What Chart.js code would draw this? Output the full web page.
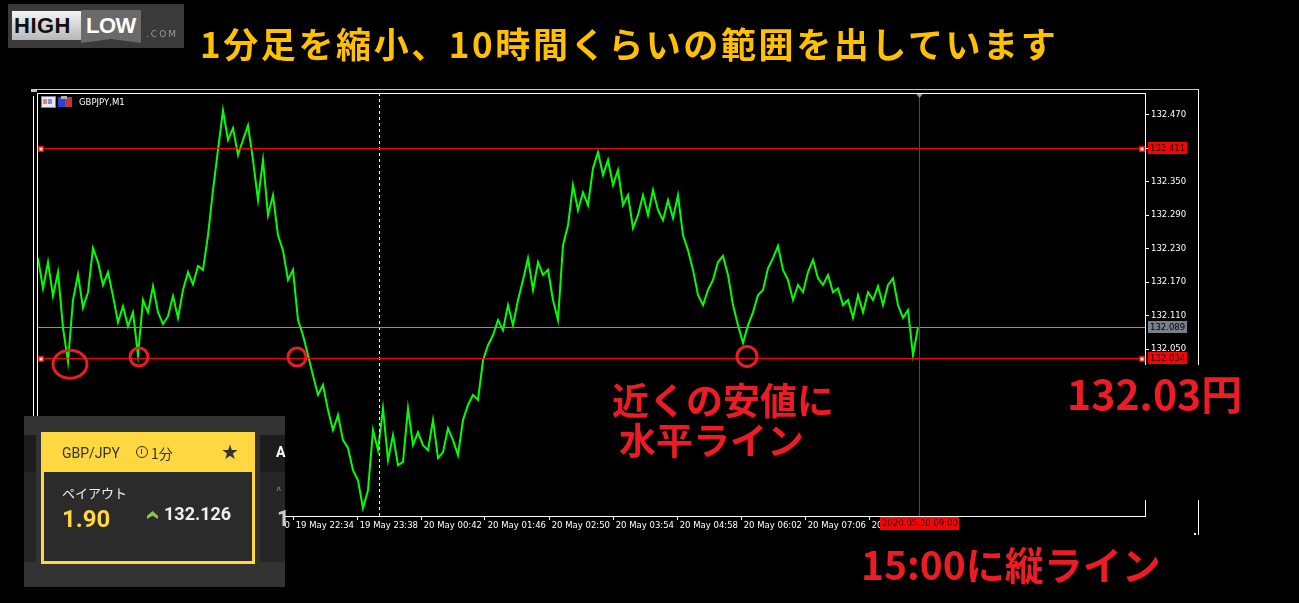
<!DOCTYPE html>
<html>
<head>
<meta charset="utf-8">
<script src="https://cdn.jsdelivr.net/npm/chart.js@4.4.0/dist/chart.umd.min.js"></script>
<style>
html, body { margin: 0; padding: 0; background: #000; width: 1299px; height: 603px; overflow: hidden; }
#wrap { position: relative; width: 1299px; height: 603px; }
#myChart { position: absolute; left: 0; top: 0; }
.ov { position: absolute; white-space: nowrap; }
.jp { font-family: "Noto Sans CJK JP", sans-serif; font-weight: bold; }
.red { color: #ed1c24; }
</style>
</head>
<body>
<div id="wrap">
  <canvas id="myChart" width="1299" height="603"></canvas>

  <!-- logo -->
  <div class="ov" style="left:8px;top:4px;width:176px;height:44px;background:#3a3a3a;"></div>
  <div class="ov" style="left:12px;top:11px;width:70px;height:29px;background:linear-gradient(#f4f4f4,#b8b8b8);"></div>
  <div class="ov" style="left:14px;top:11px;font:bold 22px/29px 'Liberation Sans';color:#111;letter-spacing:0.5px;">HIGH</div>
  <div class="ov" style="left:81px;top:10px;width:60px;height:33px;background:#6a6a6a;clip-path:polygon(0 0,100% 0,100% 100%,50% 88%,0 100%);"></div>
  <div class="ov" style="left:86px;top:11px;font:bold 22px/29px 'Liberation Sans';color:#fff;letter-spacing:-0.5px;">LOW</div>
  <div class="ov" style="left:146px;top:29px;font:9px/10px 'DejaVu Sans';color:#9a9a9a;letter-spacing:2px;">.COM</div>

  <!-- title -->
  <div class="ov jp" style="left:200px;top:23px;font-size:35px;line-height:39px;color:#ffc000;letter-spacing:2.6px;">1分足を縮小、10時間くらいの範囲を出しています</div>

  <!-- chart header icons -->
  <div class="ov" style="left:41px;top:96px;width:13px;height:10px;background:#e8e8f0;border:1px solid #8080a0;"></div>
  <div class="ov" style="left:43px;top:99px;width:4px;height:5px;background:#e08080;"></div>
  <div class="ov" style="left:48px;top:99px;width:4px;height:5px;background:#8090e0;"></div>
  <div class="ov" style="left:58px;top:97px;width:7px;height:10px;background:#3040d0;"></div>
  <div class="ov" style="left:65px;top:97px;width:7px;height:10px;background:#c03838;"></div>
  <div class="ov" style="left:61px;top:96px;width:6px;height:3px;background:#b0b0b0;"></div>
  <div class="ov" style="left:79px;top:97px;font:8.5px/10px 'DejaVu Sans';color:#fff;">GBPJPY,M1</div>

  <!-- covered part of the axis -->
  <div class="ov" style="left:1140px;top:365px;width:159px;height:135px;background:#000;"></div>

  <!-- annotations -->
  <div class="ov jp red" style="left:612px;top:378px;font-size:37px;line-height:42px;">近くの安値に</div>
  <div class="ov jp red" style="left:619px;top:418px;font-size:37px;line-height:42px;">水平ライン</div>
  <div class="ov jp red" style="left:1067px;top:369px;font-size:41px;line-height:47px;">132.03円</div>
  <div class="ov jp red" style="left:861px;top:541px;font-size:39px;line-height:45px;">15:00に縦ライン</div>

  <!-- trading card -->
  <div class="ov" style="left:24px;top:416px;width:261px;height:171px;background:#333;"></div>
  <div class="ov" style="left:24px;top:435px;width:12px;height:37px;background:#1c1c1c;"></div>
  <div class="ov" style="left:24px;top:472px;width:12px;height:90px;background:#262626;"></div>
  <div class="ov" style="left:260px;top:435px;width:25px;height:37px;background:#1c1c1c;"></div>
  <div class="ov" style="left:260px;top:472px;width:25px;height:90px;background:#262626;"></div>
  <div class="ov" style="left:276px;top:444px;font:bold 14px/16px Roboto;color:#fff;">A</div>
  <div class="ov" style="left:276px;top:484px;font:13px/16px Roboto;color:#777;">^</div>
  <div class="ov" style="left:277px;top:507px;font:bold 22px/24px Roboto;color:#ccc;">1</div>
  <div class="ov" style="left:41px;top:432px;width:214px;height:132px;background:#ffd740;"></div>
  <div class="ov" style="left:44px;top:472px;width:208px;height:89px;background:#2b2b2b;"></div>
  <div class="ov" style="left:62px;top:444px;font:14px/18px Roboto;color:#333;">GBP/JPY</div>
  <div class="ov" style="left:136px;top:446px;width:10px;height:10px;border:1.5px solid #333;border-radius:50%;"></div>
  <div class="ov" style="left:140.5px;top:448.5px;width:1.5px;height:5px;background:#333;"></div>
  <div class="ov" style="left:151px;top:444px;font:14px/18px 'Noto Sans CJK JP';color:#333;">1分</div>
  <div class="ov" style="left:221px;top:441px;font:20px/22px 'DejaVu Sans';color:#333;">★</div>
  <div class="ov" style="left:62px;top:485px;font:13px/16px 'Noto Sans CJK JP';color:#eee;">ペイアウト</div>
  <div class="ov" style="left:62px;top:505px;font:bold 24px/28px Roboto;color:#ffd740;">1.90</div>
  <div class="ov" style="left:147px;top:511px;width:11px;height:8px;background:#8bc34a;clip-path:polygon(50% 0,100% 60%,100% 100%,50% 60%,0 100%,0 60%);"></div>
  <div class="ov" style="left:164px;top:503px;font:bold 18px/22px Roboto;color:#f0f0f0;">132.126</div>
</div>

<script>
// GBPJPY M1, sampled every 5 minutes from 19 May 18:19 (server time)
const barPrices = [
  132.213, 132.159, 132.206, 132.145, 132.188, 132.088, 132.027, 132.138, 132.184, 132.124,
  132.152, 132.231, 132.206, 132.165, 132.188, 132.145, 132.098, 132.127, 132.091, 132.116,
  132.039, 132.138, 132.116, 132.163, 132.116, 132.095, 132.109, 132.145, 132.106, 132.156,
  132.188, 132.166, 132.199, 132.192, 132.254, 132.335, 132.407, 132.478, 132.425, 132.446,
  132.398, 132.425, 132.451, 132.389, 132.317, 132.389, 132.290, 132.326, 132.254, 132.227,
  132.174, 132.192, 132.102, 132.075, 132.039, 132.003, 131.968, 131.986, 131.941, 131.905,
  131.932, 131.887, 131.873, 131.833, 131.815, 131.765, 131.797, 131.905, 131.869, 131.944,
  131.851, 131.896, 131.842, 131.848, 131.944, 131.878, 131.901, 131.878, 131.869, 131.923,
  131.855, 131.865, 131.908, 131.887, 131.860, 131.923, 131.950, 131.968, 131.959, 132.030,
  132.057, 132.075, 132.102, 132.084, 132.129, 132.093, 132.138, 132.174, 132.213, 132.156,
  132.206, 132.183, 132.192, 132.138, 132.102, 132.236, 132.272, 132.344, 132.299, 132.331,
  132.308, 132.374, 132.403, 132.362, 132.389, 132.344, 132.371, 132.308, 132.326, 132.267,
  132.290, 132.326, 132.290, 132.335, 132.299, 132.281, 132.317, 132.285, 132.326, 132.254,
  132.227, 132.192, 132.147, 132.129, 132.156, 132.174, 132.206, 132.217, 132.183, 132.129,
  132.093, 132.061, 132.093, 132.116, 132.147, 132.156, 132.195, 132.213, 132.235, 132.192,
  132.174, 132.138, 132.165, 132.152, 132.188, 132.210, 132.177, 132.165, 132.183, 132.152,
  132.159, 132.129, 132.138, 132.106, 132.147, 132.116, 132.152, 132.138, 132.163, 132.129,
  132.165, 132.177, 132.129, 132.106, 132.120, 132.039, 132.089
];
const firstMinute = 1;   // minutes after 18:18
const stepMinutes = 5;

// x axis ticks in minutes after 19 May 18:18
const xTickMinutes = [0, 64, 128, 192, 256, 320, 384, 448, 512, 576, 640, 704, 768, 832];
const yTickValues = [132.050, 132.110, 132.170, 132.230, 132.290, 132.350, 132.410, 132.470];

const resistancePrice = 132.411;
const supportPrice = 132.034;
const bidPrice = 132.089;
const separatorMinute = 342;  // 20 May 00:00
const cursorMinute = 882;     // 20 May 09:00
const cursorLabel = "2020.05.20 09:00";

// circled lows: [minute, price, rx, ry]
const circledLows = [[33, 132.023, 17, 14], [102, 132.036, 9, 9], [260, 132.036, 9, 9], [710, 132.037, 10, 10]];

const points = barPrices.map((p, i) => ({ x: firstMinute + i * stepMinutes, y: p }));

function minuteLabel(m) {
  let t = 18 * 60 + 18 + m;
  let day = 19;
  if (t >= 1440) { t -= 1440; day = 20; }
  const hh = String(Math.floor(t / 60)).padStart(2, "0");
  const mm = String(t % 60).padStart(2, "0");
  return " " + day + " May " + hh + ":" + mm;
}

function hline(ctx, x1, x2, y) { ctx.beginPath(); ctx.moveTo(x1, y); ctx.lineTo(x2, y); ctx.stroke(); }
function vline(ctx, x, y1, y2) { ctx.beginPath(); ctx.moveTo(x, y1); ctx.lineTo(x, y2); ctx.stroke(); }

function priceBox(ctx, yPix, left, text, bg) {
  ctx.fillStyle = bg;
  ctx.fillRect(left, Math.round(yPix) - 6, 39, 12);
  ctx.fillStyle = "#000";
  ctx.font = "8.5px 'DejaVu Sans'";
  ctx.textAlign = "left";
  ctx.textBaseline = "middle";
  ctx.fillText(text, left + 2, Math.round(yPix) + 0.5);
}

const mt4Overlay = {
  id: "mt4Overlay",
  afterDatasetsDraw(chart) {
    const { ctx, chartArea: a, scales: { x, y } } = chart;
    ctx.save();
    ctx.lineWidth = 1;

    // day separator
    ctx.strokeStyle = "#fff";
    ctx.setLineDash([3, 3]);
    vline(ctx, Math.round(x.getPixelForValue(separatorMinute)) + 0.5, a.top, a.bottom);
    ctx.setLineDash([]);

    // bid line
    ctx.strokeStyle = "#8a929c";
    hline(ctx, a.left, a.right, Math.round(y.getPixelForValue(bidPrice)) + 0.5);

    // horizontal levels
    ctx.strokeStyle = "#ff0000";
    [resistancePrice, supportPrice].forEach(p => {
      hline(ctx, a.left, a.right, Math.round(y.getPixelForValue(p)) + 0.5);
    });

    // cursor vertical
    const cx = Math.round(x.getPixelForValue(cursorMinute)) + 0.5;
    vline(ctx, cx, a.top, a.bottom);
    ctx.fillStyle = "#8a9aa8";
    ctx.beginPath();
    ctx.moveTo(cx - 4, a.top); ctx.lineTo(cx + 4, a.top); ctx.lineTo(cx, a.top + 5); ctx.closePath();
    ctx.fill();

    // handles on levels
    [resistancePrice, supportPrice].forEach(p => {
      const py = Math.round(y.getPixelForValue(p));
      [a.left + 1, a.right - 6].forEach(hx => {
        ctx.fillStyle = "#ff0000";
        ctx.fillRect(hx, py - 2, 6, 6);
        ctx.fillStyle = "#fff";
        ctx.fillRect(hx + 1.5, py - 0.5, 3, 3);
      });
    });

    // plot frame
    ctx.strokeStyle = "#fff";
    ctx.strokeRect(a.left + 0.5, a.top + 0.5, a.right - a.left, a.bottom - a.top);
    // outer window frame
    vline(ctx, 33.5, a.top + 3, 418);
    vline(ctx, 1198.5, 89, 535);
    ctx.strokeStyle = "#c8c8c8";
    hline(ctx, 31, 1199, 89.5);
    ctx.fillStyle = "#c8c8c8";
    ctx.fillRect(31, 89, 6, 3);
    ctx.fillStyle = "#fff";
    ctx.fillRect(1194, 533, 2, 2);
    ctx.restore();
  },
  afterDraw(chart) {
    const { ctx, chartArea: a, scales: { x, y } } = chart;
    ctx.save();
    priceBox(ctx, y.getPixelForValue(resistancePrice), a.right + 3, resistancePrice.toFixed(3), "#ff0000");
    priceBox(ctx, y.getPixelForValue(bidPrice), a.right + 3, bidPrice.toFixed(3), "#77818c");
    priceBox(ctx, y.getPixelForValue(supportPrice), a.right + 3, supportPrice.toFixed(3), "#ff0000");

    // cursor time label
    const cx = x.getPixelForValue(cursorMinute);
    ctx.fillStyle = "#ff0000";
    ctx.fillRect(Math.round(cx) - 39, a.bottom + 1, 79, 13);
    ctx.fillStyle = "#000";
    ctx.font = "8.5px 'DejaVu Sans'";
    ctx.textAlign = "center";
    ctx.textBaseline = "middle";
    ctx.fillText(cursorLabel, Math.round(cx) + 1, a.bottom + 8);

    // circled lows
    ctx.strokeStyle = "#ed1c24";
    ctx.lineWidth = 3;
    circledLows.forEach(([m, p, rx, ry]) => {
      ctx.beginPath();
      ctx.ellipse(x.getPixelForValue(m), y.getPixelForValue(p), rx, ry, 0, 0, Math.PI * 2);
      ctx.stroke();
    });
    ctx.restore();
  }
};

let ctx = document.getElementById("myChart").getContext("2d");

let myChart = new Chart(ctx, {
  type: "line",
  data: {
    datasets: [{
      data: points,
      borderColor: "#00ff00",
      borderWidth: 2,
      pointRadius: 0,
      tension: 0,
    }],
  },
  options: {
    responsive: false,
    animation: false,
    events: [],
    layout: { padding: { left: 37, top: 93, right: 100, bottom: 67 } },
    plugins: { legend: { display: false }, tooltip: { enabled: false } },
    scales: {
      x: {
        type: "linear",
        min: 0,
        max: 1108,
        border: { display: false },
        grid: { drawOnChartArea: false, drawTicks: true, tickLength: 4, color: "#fff" },
        ticks: {
          color: "#fff",
          font: { family: "DejaVu Sans", size: 8.5 },
          align: "start",
          padding: 1,
          maxRotation: 0,
          autoSkip: false,
          callback: v => minuteLabel(v),
        },
        afterBuildTicks: s => { s.ticks = xTickMinutes.map(v => ({ value: v })); },
        afterFit: s => { s.height = 20; },
      },
      y: {
        type: "linear",
        position: "right",
        min: 131.751,
        max: 132.509,
        border: { display: false },
        grid: { drawOnChartArea: false, drawTicks: true, tickLength: 4, color: "#fff" },
        ticks: {
          color: "#fff",
          font: { family: "DejaVu Sans", size: 8.5 },
          padding: 2,
          callback: v => v.toFixed(3),
        },
        afterBuildTicks: s => { s.ticks = yTickValues.map(v => ({ value: v })); },
        afterFit: s => { s.width = 54; },
      },
    },
  },
  plugins: [mt4Overlay],
});
</script>
</body>
</html>
